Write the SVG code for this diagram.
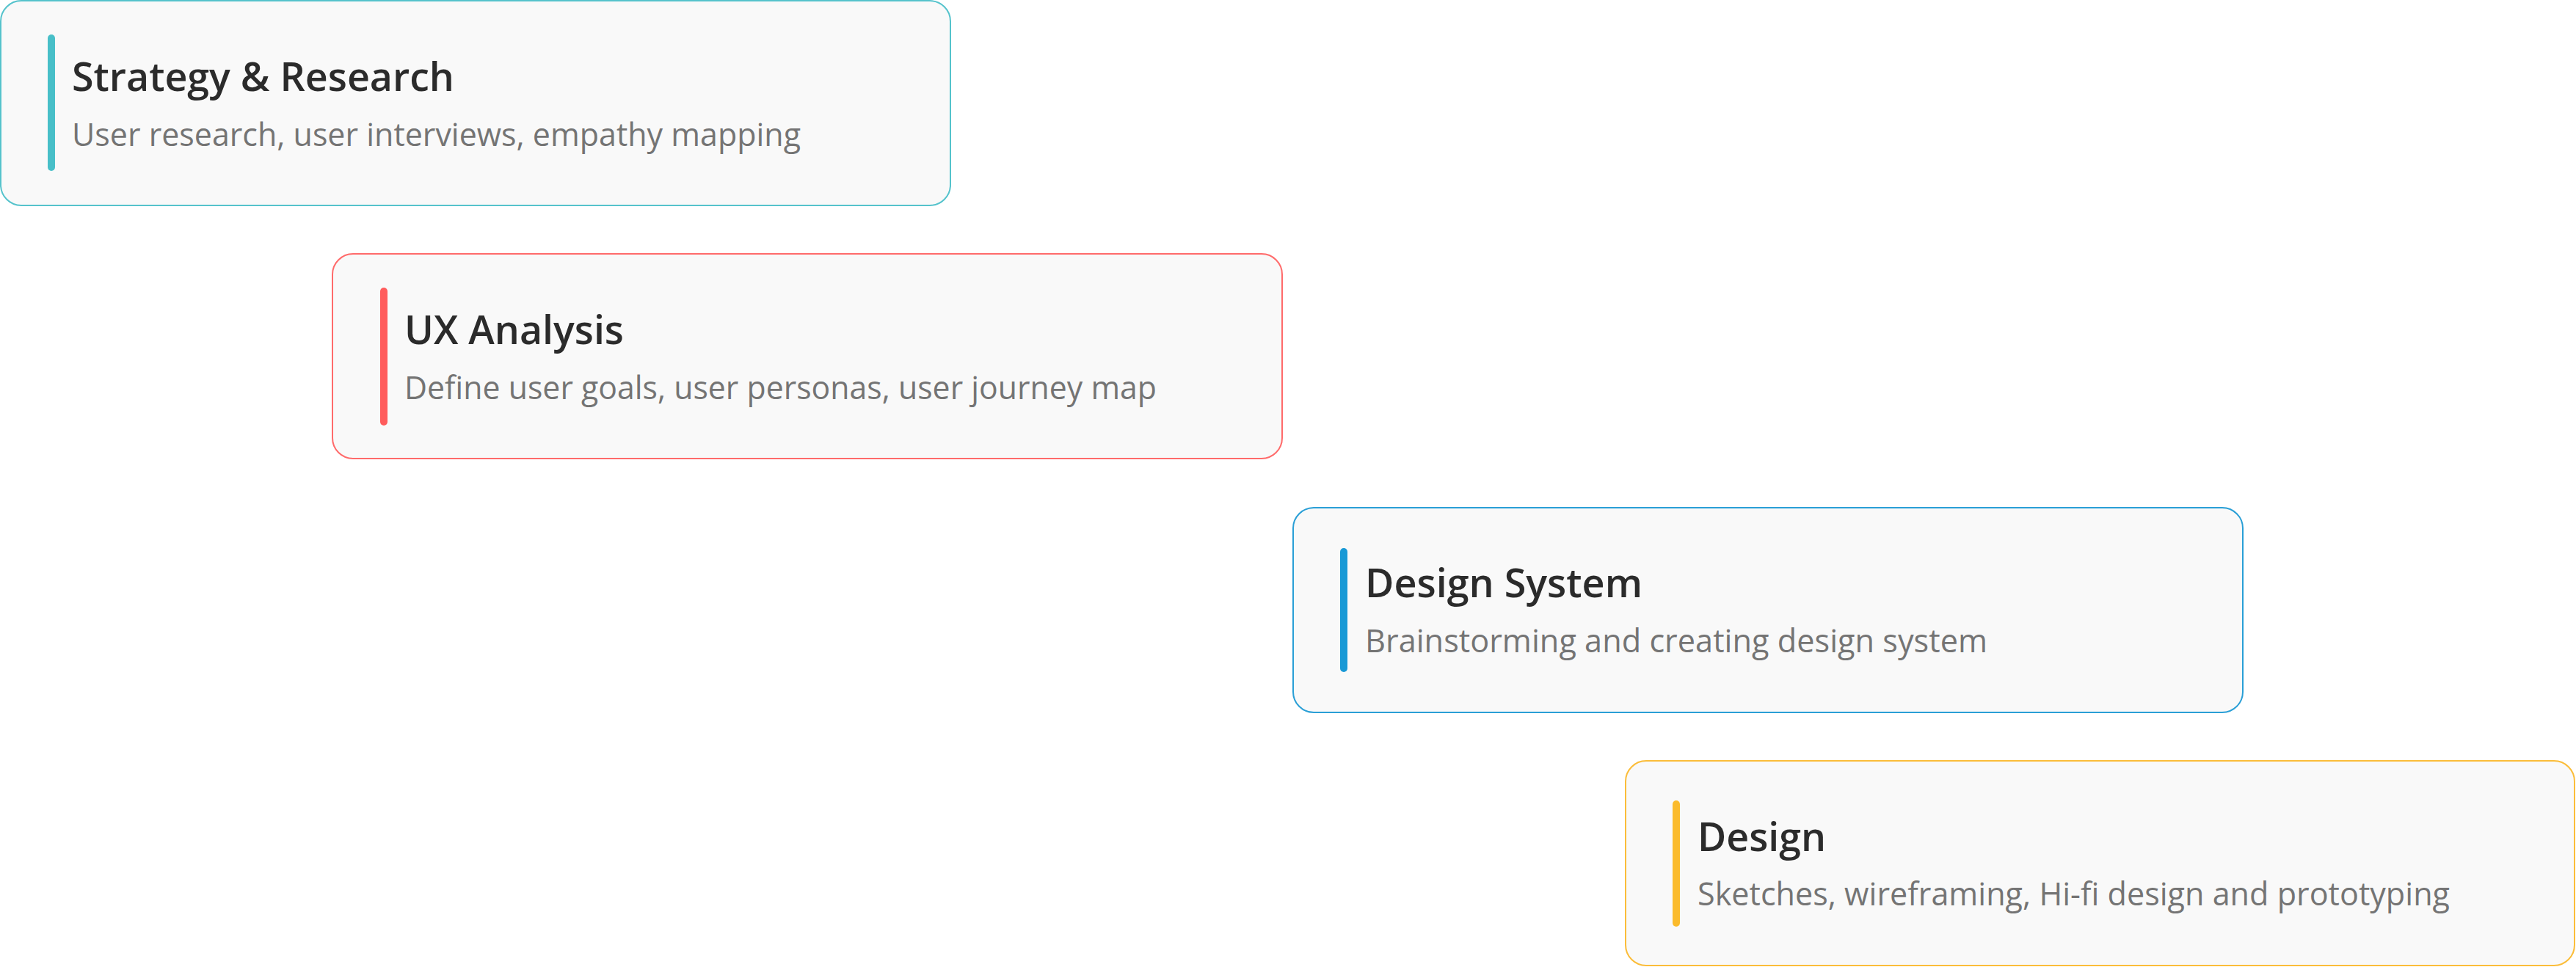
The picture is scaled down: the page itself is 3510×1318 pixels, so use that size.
<svg xmlns="http://www.w3.org/2000/svg" width="3510" height="1318" viewBox="0 0 3510 1318">
  <style>
    .card { fill: #f9f9f9; stroke-width: 2; }
    .bar { stroke: none; }
    .title { font-family: "Open Sans", "Liberation Sans", sans-serif; font-size: 54px; font-weight: 600; fill: #2b2b2b; }
    .sub { font-family: "Open Sans", "Liberation Sans", sans-serif; font-size: 43px; font-weight: 400; fill: #747474; }
  </style>
  <rect width="3510" height="1318" fill="#ffffff"/>
  <g id="connectors"></g>
  <g id="node-strategy">
    <rect class="card" x="1" y="1" width="1294" height="279" rx="28" ry="28" stroke="#55c3cc"/>
    <rect class="bar" x="65" y="47" width="10" height="186" rx="5" fill="#48bfc8"/>
    <text class="title" x="98" y="124" textLength="521" lengthAdjust="spacingAndGlyphs">Strategy &amp; Research</text>
    <text class="sub" x="98" y="199" textLength="993" lengthAdjust="spacingAndGlyphs">User research, user interviews, empathy mapping</text>
  </g>
  <g id="node-ux">
    <rect class="card" x="453" y="346" width="1294" height="279" rx="28" ry="28" stroke="#ff6b6b"/>
    <rect class="bar" x="518" y="392" width="10" height="188" rx="5" fill="#ff5c5c"/>
    <text class="title" x="551" y="469" textLength="299" lengthAdjust="spacingAndGlyphs">UX Analysis</text>
    <text class="sub" x="551" y="544" textLength="1025" lengthAdjust="spacingAndGlyphs">Define user goals, user personas, user journey map</text>
  </g>
  <g id="node-design-system">
    <rect class="card" x="1762" y="692" width="1294" height="279" rx="28" ry="28" stroke="#2a9fd6"/>
    <rect class="bar" x="1826" y="747" width="10" height="169" rx="5" fill="#1899d6"/>
    <text class="title" x="1860" y="814" textLength="378" lengthAdjust="spacingAndGlyphs">Design System</text>
    <text class="sub" x="1860" y="889" textLength="848" lengthAdjust="spacingAndGlyphs">Brainstorming and creating design system</text>
  </g>
  <g id="node-design">
    <rect class="card" x="2215" y="1037" width="1293" height="279" rx="28" ry="28" stroke="#fbbd3a"/>
    <rect class="bar" x="2279" y="1091" width="10" height="172" rx="5" fill="#fbbb2c"/>
    <text class="title" x="2313" y="1160" textLength="175" lengthAdjust="spacingAndGlyphs">Design</text>
    <text class="sub" x="2313" y="1234" textLength="1025" lengthAdjust="spacingAndGlyphs">Sketches, wireframing, Hi-fi design and prototyping</text>
  </g>
</svg>
